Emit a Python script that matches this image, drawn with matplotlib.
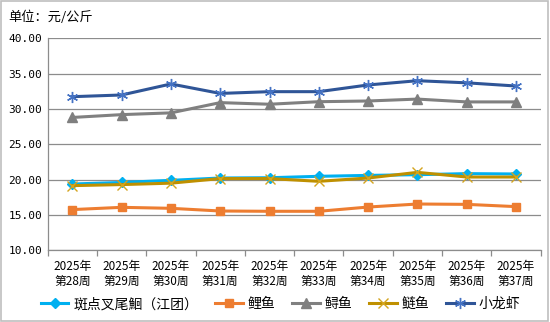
import matplotlib
matplotlib.use("Agg")
import matplotlib.pyplot as plt
from matplotlib.ticker import FixedLocator, NullFormatter
import numpy as np

plt.rcParams['font.family'] = ['Noto Sans CJK SC', 'DejaVu Sans']

weeks = ["2025年\n第28周", "2025年\n第29周", "2025年\n第30周", "2025年\n第31周", "2025年\n第32周",
         "2025年\n第33周", "2025年\n第34周", "2025年\n第35周", "2025年\n第36周", "2025年\n第37周"]
catfish = [19.38, 19.60, 19.90, 20.23, 20.27, 20.47, 20.60, 20.70, 20.85, 20.80]
carp = [15.76, 16.08, 15.94, 15.56, 15.52, 15.52, 16.12, 16.55, 16.50, 16.18]
sturgeon = [28.80, 29.20, 29.45, 30.90, 30.67, 31.03, 31.13, 31.40, 31.00, 31.00]
silver_carp = [19.15, 19.30, 19.50, 20.15, 20.15, 19.76, 20.23, 21.03, 20.37, 20.37]
crayfish = [31.74, 31.98, 33.54, 32.20, 32.45, 32.45, 33.40, 34.00, 33.70, 33.25]
names = ["斑点叉尾鮰（江团）", "鲤鱼", "鲟鱼", "鲢鱼", "小龙虾"]
yticks = [10, 15, 20, 25, 30, 35, 40]

fig = plt.figure(figsize=(5.5, 3.22), dpi=100)
ax = fig.add_axes([0.0867, 0.2227, 0.8963, 0.6583])
x = np.arange(len(weeks))

ax.plot(x, catfish, color='#00B0F0', lw=2.2, marker='D', ms=5.5, mfc='#00B0F0', mec='#00B0F0', label=names[0], zorder=3)
ax.plot(x, carp, color='#ED7D31', lw=2.2, marker='s', ms=5.5, mfc='#ED7D31', mec='#ED7D31', label=names[1], zorder=3)
ax.plot(x, sturgeon, color='#808080', lw=2.2, marker='^', ms=7, mfc='#7F7F7F', mec='#7F7F7F', label=names[2], zorder=3)
ax.plot(x, silver_carp, color='#BF9000', lw=2.2, marker='x', ms=7, mew=1.0, mec='#D4A520', label=names[3], zorder=3)
ax.plot(x, crayfish, color='#2F5597', lw=2.2, marker=(6, 2, 0), ms=8, mew=1.0, mec='#4472C4', label=names[4], zorder=3)

ax.set_xlim(-0.5, len(weeks) - 0.5)
ax.set_ylim(10, 40)
ax.set_yticks(yticks)
ax.set_yticklabels([f"{v:.2f}" for v in yticks], fontsize=8, family=['DejaVu Sans Mono', 'DejaVu Sans'])
ax.tick_params(axis='y', length=0, pad=4)
ax.grid(axis='y', color='#8C8C8C', lw=0.9)
ax.set_axisbelow(True)

ax.set_xticks(x)
ax.set_xticklabels(weeks, fontsize=8.5, linespacing=1.2)
ax.tick_params(axis='x', length=0, pad=7)
ax.xaxis.set_minor_locator(FixedLocator(np.arange(-0.5, len(weeks), 1.0)))
ax.xaxis.set_minor_formatter(NullFormatter())
ax.tick_params(axis='x', which='minor', length=4, color='#8C8C8C', width=0.9)

for s in ['top', 'right']:
    ax.spines[s].set_visible(False)
for s in ['left', 'bottom']:
    ax.spines[s].set_color('#8C8C8C')
    ax.spines[s].set_linewidth(0.9)

fig.text(0.015, 0.945, "单位：元/公斤", fontsize=9.5, va='center', ha='left')

leg = fig.legend(loc='center', bbox_to_anchor=(0.51, 0.055), ncol=5, frameon=False,
                 fontsize=10, handlelength=2.0, columnspacing=1.2, handletextpad=0.35)

border = plt.Rectangle((0.002, 0.003), 0.995, 0.993, transform=fig.transFigure,
                       fill=False, edgecolor='#BFBFBF', lw=1.2)
fig.patches.append(border)

fig.savefig("out.png", dpi=100)
